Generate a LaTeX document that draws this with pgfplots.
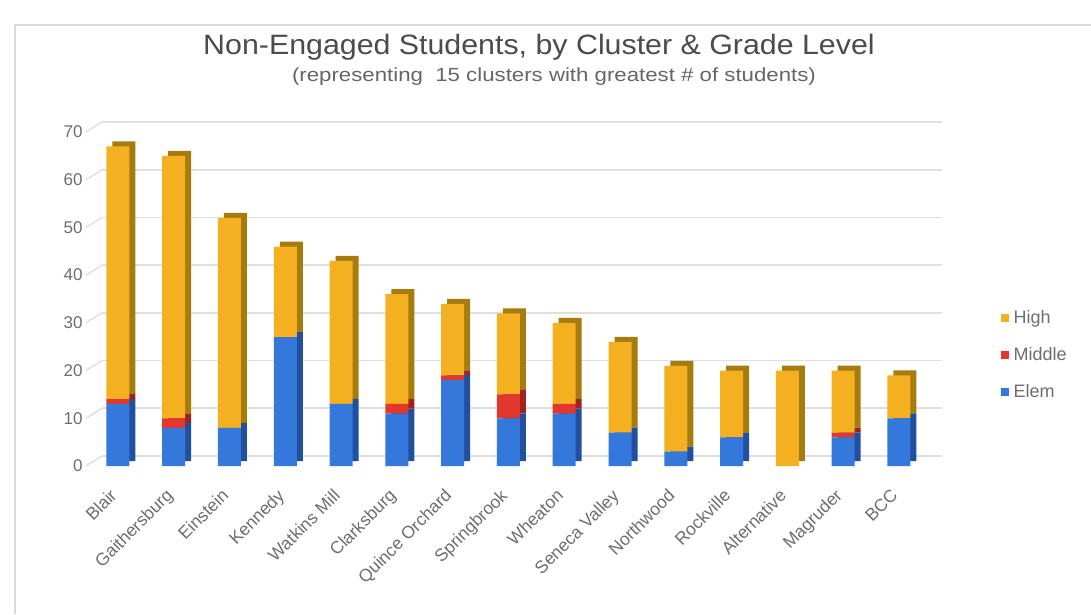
\documentclass[border=0pt]{standalone}
\usepackage{pgfplots}
\pgfplotsset{compat=1.18}
\usepackage{pgfplotstable}
\usepackage{fontspec}
\setmainfont{Liberation Sans}
\definecolor{cHigh}{HTML}{F5B022}
\definecolor{cMid}{HTML}{E2372D}
\definecolor{cElem}{HTML}{3478DC}
\definecolor{dHigh}{HTML}{A67C0E}
\definecolor{dMid}{HTML}{9E2420}
\definecolor{dElem}{HTML}{23509E}
\definecolor{txt}{HTML}{6E6E6E}

\pgfplotstableread{
x Elem Middle High
0 13 1 53
1 8 2 55
2 8 0 44
3 27 0 19
4 13 0 30
5 11 2 23
6 18 1 15
7 10 5 17
8 11 2 17
9 7 0 19
10 3 0 18
11 6 0 14
12 0 0 20
13 6 1 13
14 10 0 9
}\data

\pgfplotsset{
  barbase/.style={
    anchor=south west, scale only axis, width=848pt, height=334pt,
    xmin=-0.5, xmax=14.7, ymin=0, ymax=70,
    ybar stacked, bar width=23pt,
  },
}

\begin{document}
\begin{tikzpicture}
\useasboundingbox (0pt,0pt) rectangle (1091pt,614pt);
\fill[white] (0pt,0pt) rectangle (1091pt,614pt);
\draw[black!15, line width=1.2pt] (15pt,0pt) -- (15pt,589pt) -- (1091pt,589pt);

\node[font=\fontsize{28}{28}\selectfont, text=black!70, anchor=base] at (539pt,559pt) {\scalebox{1.084}[1]{Non-Engaged Students, by Cluster \& Grade Level}};
\node[font=\fontsize{19}{19}\selectfont, text=black!60, anchor=base] at (554pt,532pt) {\scalebox{1.17}[1]{(representing\ \ 15 clusters with greatest \# of students)}};

% left slanted edges of the back-plane grid
\foreach \k in {0,...,7}{
  \draw[black!12, line width=1.4pt, yshift=\k*47.714pt] (86pt,148pt) -- (102pt,158pt);
}

% grid (back plane)
\begin{axis}[at={(102pt,158pt)}, anchor=south west, scale only axis,
  width=840pt, height=334pt, xmin=0, xmax=1, ymin=0, ymax=70,
  ytick={0,10,...,70}, xtick=\empty, yticklabels={},
  ymajorgrids, grid style={color=black!12, line width=1.6pt},
  axis line style={draw=none}, major tick length=0pt]
\addplot[draw=none, forget plot] coordinates {(0,0) (1,0)};
\end{axis}

% side faces (3D depth)
\begin{axis}[barbase, at={(96pt,153pt)}, hide axis]
\addplot[fill=dElem, draw=none] table[x=x, y=Elem] {\data};
\addplot[fill=dMid, draw=none] table[x=x, y=Middle] {\data};
\addplot[fill=dHigh, draw=none] table[x=x, y=High] {\data};
\end{axis}

% front faces
\begin{axis}[barbase, at={(90pt,148pt)},
  axis line style={draw=none}, major tick length=0pt,
  ytick={0,10,...,70},
  /pgf/number format/assume math mode=true,
  yticklabel style={font=\fontsize{17}{17}\selectfont, text=txt, xshift=-4pt},
  xtick={0,...,14},
  xticklabels={Blair,Gaithersburg,Einstein,Kennedy,Watkins Mill,Clarksburg,Quince Orchard,Springbrook,Wheaton,Seneca Valley,Northwood,Rockville,Alternative,Magruder,BCC},
  xticklabel style={font=\fontsize{17.5}{17.5}\selectfont, text=txt, xshift=-9pt, yshift=-17pt, rotate=45, anchor=north east},
  reverse legend,
  legend image code/.code={\fill[#1] (0pt,-4pt) rectangle (8pt,4pt); \path (0pt,0pt) -- (11pt,0pt);},
  legend style={draw=none, fill=none, at={(1.07,0.478)}, anchor=north west,
    font=\fontsize{18}{18}\selectfont, text=txt, row sep=18.5pt, legend cell align=left},
]
\addplot[fill=cElem, draw=none] table[x=x, y=Elem] {\data};
\addplot[fill=cMid, draw=none] table[x=x, y=Middle] {\data};
\addplot[fill=cHigh, draw=none] table[x=x, y=High] {\data};
\legend{Elem, Middle, High}
\end{axis}
\end{tikzpicture}
\end{document}
